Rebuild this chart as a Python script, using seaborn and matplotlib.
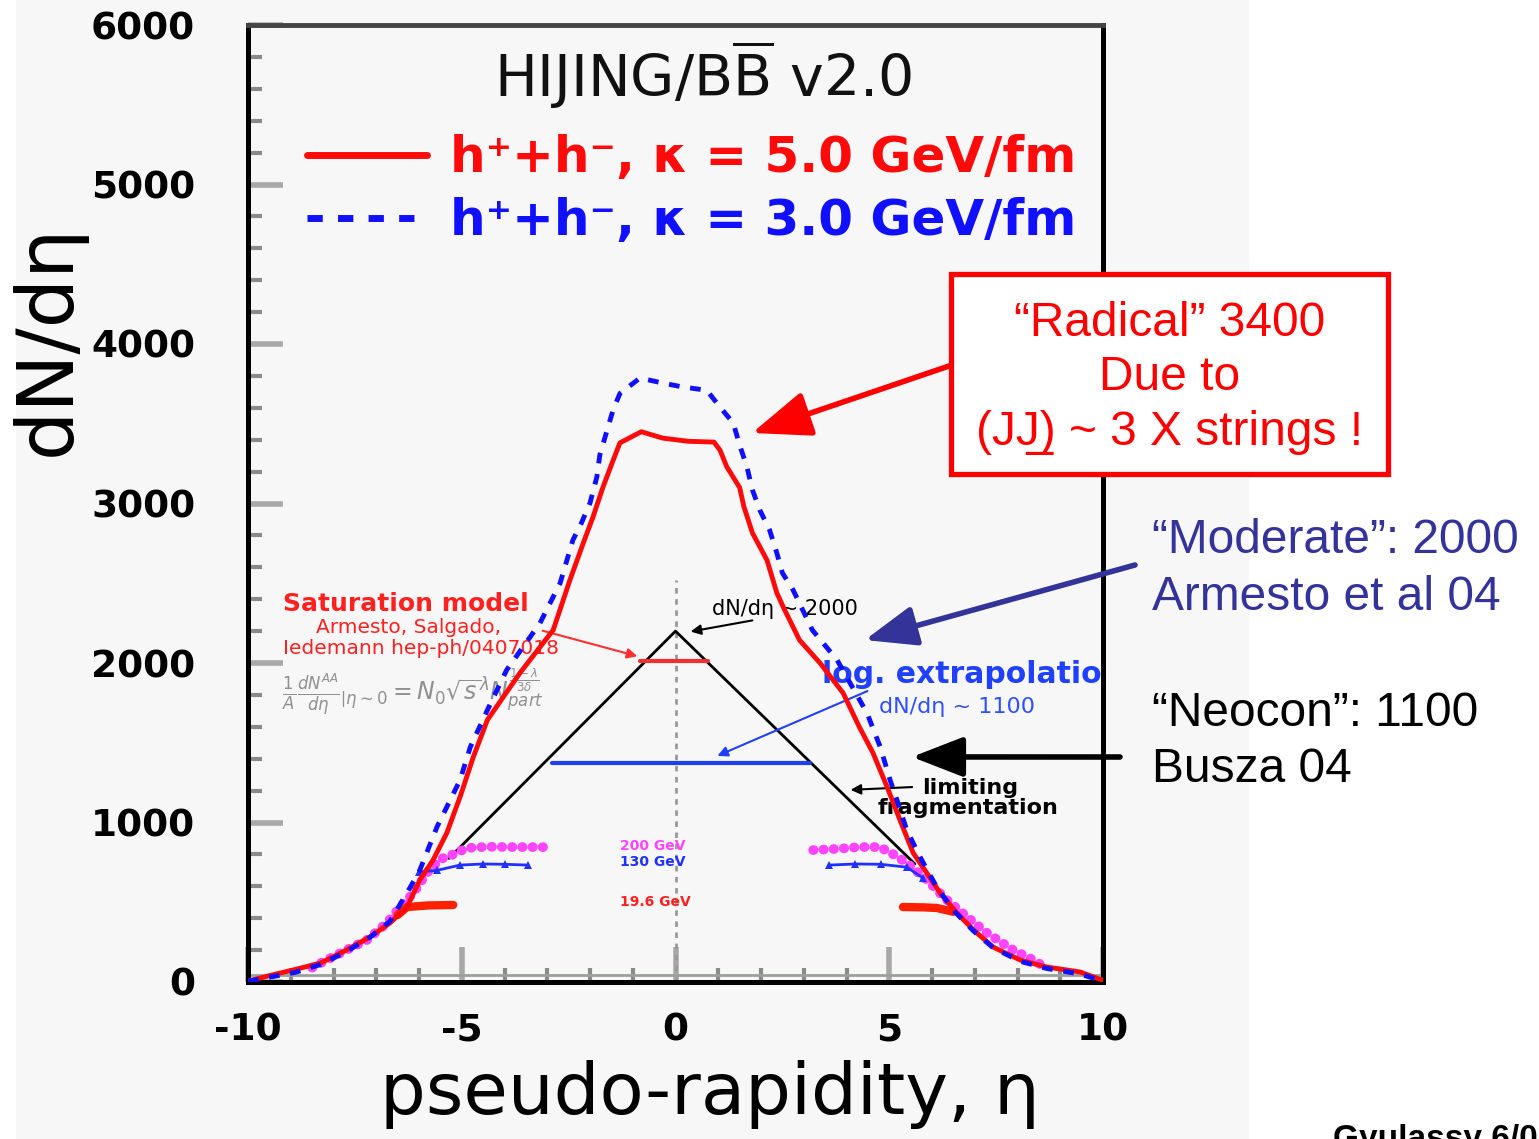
import matplotlib
matplotlib.use("Agg")
import matplotlib.pyplot as plt
import seaborn as sns
import numpy as np
import pandas as pd
from matplotlib.patches import Rectangle

# ---------------- data ----------------
eta_k5 = [-10, -9.5, -8.95, -8.3, -7.7, -7.15, -6.68, -6.28, -5.98, -5.67, -5.35,
          -5.04, -4.73, -4.4, -3.64, -2.86, -2.47, -2.16, -1.93, -1.7, -1.46, -1.3,
          -0.8, -0.3, 0.3, 0.9, 1.04, 1.2, 1.5, 1.6, 1.8, 2.14, 2.37, 2.52, 2.9,
          3.38, 3.92, 4.3, 4.62, 4.95, 5.25, 5.56, 5.88, 6.19, 6.58, 6.97, 7.43,
          8.06, 8.68, 9.46, 10]
dndeta_k5 = [5, 40, 75, 119, 200, 282, 370, 470, 640, 765, 934,
             1160, 1410, 1643, 1937, 2207, 2520, 2750, 2915, 3100, 3270, 3380,
             3450, 3410, 3390, 3385, 3335, 3230, 3100, 2980, 2815, 2645, 2440, 2351, 2144,
             2000, 1812, 1599, 1436, 1223, 1016, 809, 683, 558, 433, 326, 219,
             138, 94, 63, 10]

eta_k3 = [-10, -9.5, -8.9, -8.3, -7.7, -7.15, -6.68, -6.2, -5.98, -5.58, -5.04,
          -4.8, -4.4, -3.95, -3.17, -2.7, -2.4, -2.2, -2.0, -1.84, -1.77, -1.6,
          -1.46, -1.3, -0.83, -0.3, 0.18, 0.73, 1.04, 1.35, 1.5, 1.67, 1.8, 1.97,
          2.2, 2.37, 2.5, 2.75, 3.2, 3.78, 4.48, 4.79, 5.02, 5.18, 5.41, 5.72,
          6.1, 6.5, 6.97, 7.43, 8.06, 8.68, 9.46, 10]
dndeta_k3 = [5, 30, 60, 110, 190, 280, 380, 596, 702, 972, 1266,
             1473, 1705, 1956, 2250, 2500, 2771, 2878, 3003, 3166, 3304, 3460,
             3586, 3690, 3787, 3755, 3730, 3710, 3605, 3505, 3367, 3230, 3085, 2960,
             2834, 2690, 2565, 2458, 2207, 2019, 1686, 1473, 1266, 1141, 953, 784,
             600, 450, 320, 215, 130, 85, 50, 5]

# 200 GeV data (magenta), left and right branches
eta_200_left = [-8.5, -8.16, -7.7, -7.22, -6.75, -6.44, -6.13, -5.82, -5.5, -5.2,
                -4.88, -4.4, -3.9, -3.4, -2.98]
dn_200_left = [90, 138, 200, 263, 370, 470, 558, 683, 770, 800,
               840, 848, 846, 846, 845]
eta_200_right = [3.22, 3.8, 4.3, 4.78, 5.1, 5.41, 5.88, 6.35, 6.82, 7.29, 7.9, 8.37, 8.6]
dn_200_right = [827, 835, 846, 846, 800, 746, 640, 514, 408, 307, 200, 138, 100]

# 130 GeV data (blue triangles)
eta_130_left = [-6.0, -5.58, -5.04, -4.5, -4.0, -3.45]
dn_130_left = [690, 700, 733, 740, 738, 733]
eta_130_right = [3.6, 4.2, 4.8, 5.41, 5.8]
dn_130_right = [733, 740, 738, 720, 650]

# 19.6 GeV data (red)
eta_19_left = [-6.5, -6.28, -5.8, -5.2]
dn_19_left = [420, 470, 480, 483]
eta_19_right = [5.32, 5.8, 6.12, 6.5]
dn_19_right = [470, 468, 464, 440]

# limiting fragmentation triangle
eta_lf = [-5.3, 0, 5.6]
dn_lf = [775, 2200, 740]

# saturation (~2000) and log-extrapolation (~1100) levels
eta_sat = [-0.83, 0.76]
dn_sat = [2012, 2012]
eta_log = [-2.9, 3.15]
dn_log = [1373, 1373]

# eta = 0 dotted guide
guide_top = 2520

xticks = [-10, -5, 0, 5, 10]
yticks = [0, 1000, 2000, 3000, 4000, 5000, 6000]

# ---------------- style ----------------
sns.set_style("white")
plt.rcParams["font.family"] = ["DejaVu Sans"]
plt.rcParams["axes.unicode_minus"] = False
plt.rcParams["text.color"] = "black"
plt.rcParams["axes.labelcolor"] = "black"

W, H = 1539, 1139
def fp(x, y):
    return (x / W, 1 - y / H)

fig = plt.figure(figsize=(W / 100, H / 100), dpi=100, facecolor="white")
fig.patches.append(Rectangle((16 / W, 0), (1249 - 16) / W, 1, transform=fig.transFigure,
                             facecolor="#f7f7f7", edgecolor="none", zorder=-10))
ax = fig.add_axes([248 / W, 1 - 982 / H, 855 / W, 957 / H])
ax.set_facecolor("#f7f7f7")

RED = "#ff0a0a"
BLUE = "#1010ff"
MAG = "#ff44ff"

# guide line and reference levels
ax.vlines(0, 0, guide_top, colors="#999999", linestyles=(0, (2, 2)), lw=2, zorder=1)
ax.axhline(45, color="#9aa09a", lw=2, zorder=1)

sns.lineplot(x=eta_lf, y=dn_lf, ax=ax, color="black", lw=2, sort=False,
             estimator=None, zorder=2)
sns.lineplot(x=eta_sat, y=dn_sat, ax=ax, color="#ee3030", lw=3, sort=False,
             estimator=None, zorder=2)
sns.lineplot(x=eta_log, y=dn_log, ax=ax, color="#2040ee", lw=3, sort=False,
             estimator=None, zorder=2)

# data points
for ex, ey in [(eta_200_left, dn_200_left), (eta_200_right, dn_200_right)]:
    sns.lineplot(x=ex, y=ey, ax=ax, color=MAG, lw=7, linestyle=(0, (0.05, 1.0)),
                 dash_capstyle="round", sort=False, estimator=None, zorder=4)
for ex, ey in [(eta_130_left, dn_130_left), (eta_130_right, dn_130_right)]:
    sns.lineplot(x=ex, y=ey, ax=ax, color="#2030ff", lw=2, marker="^", markersize=6,
                 markeredgewidth=0, sort=False, estimator=None, zorder=4)
for ex, ey in [(eta_19_left, dn_19_left), (eta_19_right, dn_19_right)]:
    sns.lineplot(x=ex, y=ey, ax=ax, color="#ff2000", lw=6, sort=False,
                 estimator=None, zorder=4)

# HIJING curves
sns.lineplot(x=eta_k5, y=dndeta_k5, ax=ax, color=RED, lw=3.5, sort=False,
             estimator=None, zorder=5)
sns.lineplot(x=eta_k3, y=dndeta_k3, ax=ax, color=BLUE, lw=3.5,
             linestyle=(0, (2.2, 2.2)), sort=False, estimator=None, zorder=5)
line5 = ax.lines[-2]
line3 = ax.lines[-1]

ax.set_xlim(-10, 10)
ax.set_ylim(0, 6000)
ax.set_xticks(xticks)
ax.set_yticks(yticks)
ax.set_xticks(np.arange(-10, 11, 1), minor=True)
ax.set_yticks(np.arange(0, 6001, 200), minor=True)
tickfont = dict(family=["DejaVu Sans"], weight="bold", size=27)
ax.set_xticklabels([str(v) for v in xticks], fontdict=tickfont)
ax.set_yticklabels([str(v) for v in yticks], fontdict=tickfont)
ax.tick_params(axis="both", which="both", left=True, bottom=True, top=False, right=False)
ax.tick_params(axis="both", which="major", direction="in", length=25, width=4,
               color="#a8a8a8", labelcolor="black")
ax.tick_params(axis="y", which="major", pad=38)
ax.tick_params(axis="x", which="major", pad=22)
ax.tick_params(axis="both", which="minor", direction="in", length=10, width=3,
               color="#8a8a8a")

for s in ["left", "bottom", "right"]:
    ax.spines[s].set_color("black")
    ax.spines[s].set_linewidth(3.6)
ax.spines["top"].set_color("#444444")
ax.spines["top"].set_linewidth(3.5)

ax.set_xlabel("pseudo-rapidity, η", fontsize=52, color="black")
ax.xaxis.set_label_coords(0.54, -0.082)
ax.set_ylabel("dN/dη", fontsize=56, color="black")
ax.yaxis.set_label_coords(-0.19, 0.671)

# title inside
ax.text(0.532, 0.948, r"HIJING/B$\overline{\mathrm{B}}$ v2.0", transform=ax.transAxes,
        ha="center", va="center", fontsize=41, color="#111111")

leg = ax.legend([line5, line3],
                ["h⁺+h⁻, κ = 5.0 GeV/fm", "h⁺+h⁻, κ = 3.0 GeV/fm"],
                loc="upper left", bbox_to_anchor=fp(307, 134),
                bbox_transform=fig.transFigure, frameon=False,
                prop=dict(family=["DejaVu Sans"], weight="bold", size=36),
                labelcolor=[RED, BLUE], handlelength=2.4, handletextpad=0.45,
                labelspacing=0.3, borderaxespad=0, borderpad=0)
for h in leg.get_lines():
    h.set_linewidth(5)

# inner annotations
ax.text(-9.17, 2370, "Saturation model", color="#ff2020", fontsize=18,
        weight="bold", ha="left", va="center")
ax.text(-8.4, 2222, "Armesto, Salgado,", color="#ff2020", fontsize=14.5,
        ha="left", va="center")
ax.text(-9.17, 2090, "Iedemann hep-ph/0407018", color="#ff2020", fontsize=14.5,
        ha="left", va="center")
ax.text(-9.2, 1820,
        r"$\frac{1}{A}\frac{dN^{AA}}{d\eta}\left|_{\eta\sim 0}\right. = N_0\sqrt{s}^{\lambda}N_{part}^{\frac{1-\lambda}{3\delta}}$",
        color="#909090", fontsize=17, ha="left", va="center")
ax.annotate("", xy=(-0.83, 2038), xytext=(-3.17, 2207),
            arrowprops=dict(arrowstyle="-|>", color="#ff3030", lw=1.5, mutation_scale=15))

ax.text(0.85, 2340, "dN/dη ~ 2000", color="black", fontsize=15, ha="left", va="center")
ax.annotate("", xy=(0.29, 2194), xytext=(1.86, 2270),
            arrowprops=dict(arrowstyle="-|>", color="black", lw=1.5, mutation_scale=15))

ax.text(3.42, 1925, "log. extrapolation", color="#2040ff", fontsize=21.5,
        weight="bold", ha="left", va="center", clip_on=True)
ax.text(4.77, 1725, "dN/dη ~ 1100", color="#3050ff", fontsize=16,
        ha="left", va="center")
ax.annotate("", xy=(0.92, 1411), xytext=(4.55, 1831),
            arrowprops=dict(arrowstyle="-|>", color="#2040ff", lw=1.5, mutation_scale=15))

ax.text(5.77, 1215, "limiting", color="black", fontsize=16, weight="bold",
        ha="left", va="center")
ax.text(4.72, 1090, "fragmentation", color="black", fontsize=16, weight="bold",
        ha="left", va="center")
ax.annotate("", xy=(4.03, 1204), xytext=(5.6, 1223),
            arrowprops=dict(arrowstyle="-|>", color="black", lw=1.5, mutation_scale=15))

ax.text(-1.3, 855, "200 GeV", color=MAG, fontsize=10, weight="bold", ha="left", va="center")
ax.text(-1.3, 750, "130 GeV", color="#2030ff", fontsize=10, weight="bold", ha="left", va="center")
ax.text(-1.3, 500, "19.6 GeV", color="#ff2020", fontsize=10, weight="bold", ha="left", va="center")

# right-hand side commentary
arial = ["Liberation Sans", "DejaVu Sans"]
fig.patches.append(Rectangle(fp(951, 474), (1388 - 951) / W, (474 - 274) / H,
                             transform=fig.transFigure, facecolor="white",
                             edgecolor="#ff0000", lw=3.8, zorder=15))
fig.text(*fp(1170, 378), "“Radical” 3400\nDue to\n(JJ̲) ~ 3 X strings !",
         ha="center", va="center", color="#ff0000", fontsize=34.5, family=arial,
         linespacing=1.27, zorder=20)
ax.annotate("", xy=(1.79, 3442), xytext=fp(952, 365), textcoords="figure fraction",
            arrowprops=dict(arrowstyle="-|>,head_length=0.9,head_width=0.35",
                            color="#ff0000", lw=4, mutation_scale=40, shrinkA=0, shrinkB=0),
            annotation_clip=False)

NAVY = "#333399"
fig.text(*fp(1152, 540), "“Moderate”: 2000", ha="left", va="center", color=NAVY,
         fontsize=34.5, family=arial)
fig.text(*fp(1152, 598), "Armesto et al 04", ha="left", va="center", color=NAVY,
         fontsize=34.5, family=arial)
ax.annotate("", xy=(4.43, 2144), xytext=fp(1135, 565), textcoords="figure fraction",
            arrowprops=dict(arrowstyle="-|>,head_length=0.9,head_width=0.35",
                            color=NAVY, lw=4, mutation_scale=35, shrinkA=0, shrinkB=0),
            annotation_clip=False)

fig.text(*fp(1152, 713), "“Neocon”: 1100", ha="left", va="center", color="black",
         fontsize=34.5, family=arial)
fig.text(*fp(1152, 770), "Busza 04", ha="left", va="center", color="black",
         fontsize=34.5, family=arial)
ax.annotate("", xy=(5.53, 1411), xytext=fp(1120, 757), textcoords="figure fraction",
            arrowprops=dict(arrowstyle="-|>,head_length=0.9,head_width=0.35",
                            color="black", lw=4, mutation_scale=35, shrinkA=0, shrinkB=0),
            annotation_clip=False)

fig.text(*fp(1333, 1124), "Gyulassy 6/04", ha="left", va="top", color="black",
         fontsize=24, weight="bold", family=arial)

fig.savefig("out.png", dpi=100)
